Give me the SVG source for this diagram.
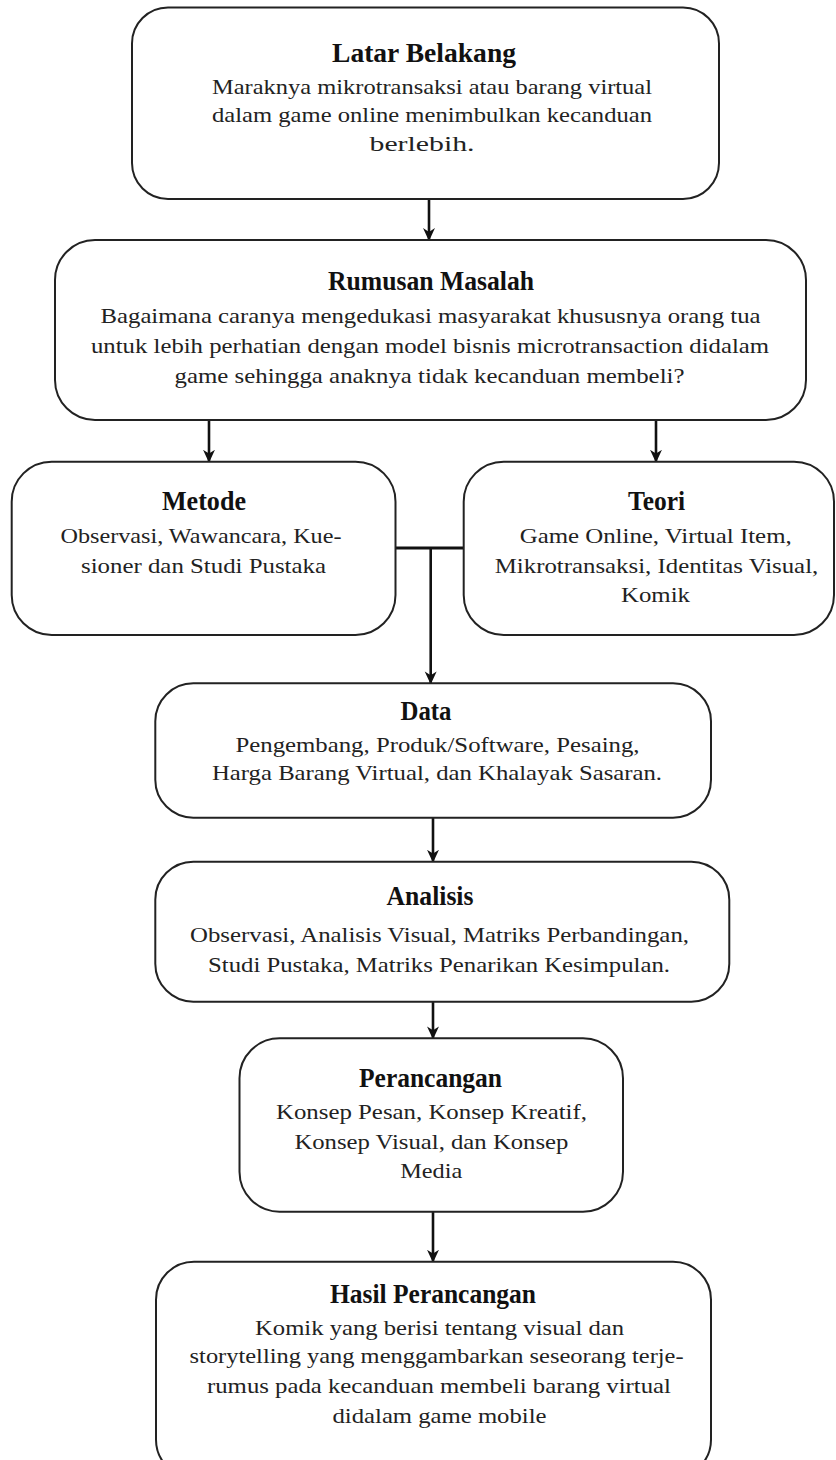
<svg xmlns="http://www.w3.org/2000/svg" width="836" height="1460" viewBox="0 0 836 1460">
<defs>
<style>
.box{fill:#fff;stroke:#222;stroke-width:2}
.t{font-family:"Liberation Serif","Times New Roman",serif;font-weight:bold;font-size:27px;fill:#111;text-anchor:middle}
.b{font-family:"Liberation Serif","Times New Roman",serif;font-size:22px;fill:#222;text-anchor:middle}
.c{stroke:#111;stroke-width:2.6;fill:none}
</style>
<marker id="ah" viewBox="0 0 12 12" refX="11" refY="6" markerWidth="13" markerHeight="13" markerUnits="userSpaceOnUse" orient="auto">
<path d="M0,0.5 L12,6 L0,11.5 L3.5,6 z" fill="#111"/>
</marker>
</defs>
<rect width="836" height="1460" fill="#fff"/>
<g id="connectors">
<line class="c" x1="429" y1="199" x2="429" y2="240" marker-end="url(#ah)"/>
<line class="c" x1="209" y1="420" x2="209" y2="461.7" marker-end="url(#ah)"/>
<line class="c" x1="656" y1="420" x2="656" y2="461.7" marker-end="url(#ah)"/>
<line class="c" x1="395.5" y1="548" x2="463.7" y2="548" style="stroke-width:3"/>
<line class="c" x1="430.7" y1="548" x2="430.7" y2="683.3" marker-end="url(#ah)"/>
<line class="c" x1="433" y1="817.7" x2="433" y2="861.7" marker-end="url(#ah)"/>
<line class="c" x1="433" y1="1001.7" x2="433" y2="1038.3" marker-end="url(#ah)"/>
<line class="c" x1="433" y1="1211.7" x2="433" y2="1261.7" marker-end="url(#ah)"/>
</g>
<g id="latar-belakang">
<rect class="box" x="132" y="7.5" width="587" height="191.5" rx="36"/>
<text class="t" x="424" y="61.5" textLength="184" lengthAdjust="spacingAndGlyphs">Latar Belakang</text>
<text class="b" x="432" y="94" textLength="440" lengthAdjust="spacingAndGlyphs">Maraknya mikrotransaksi atau barang virtual</text>
<text class="b" x="432" y="122" textLength="440" lengthAdjust="spacingAndGlyphs">dalam game online menimbulkan kecanduan</text>
<text class="b" x="422" y="150.5" textLength="105" lengthAdjust="spacingAndGlyphs">berlebih.</text>
</g>
<g id="rumusan-masalah">
<rect class="box" x="55" y="240" width="751" height="180" rx="40"/>
<text class="t" x="431" y="290" textLength="206" lengthAdjust="spacingAndGlyphs">Rumusan Masalah</text>
<text class="b" x="430.5" y="323" textLength="660" lengthAdjust="spacingAndGlyphs">Bagaimana caranya mengedukasi masyarakat khususnya orang tua</text>
<text class="b" x="430" y="353" textLength="678" lengthAdjust="spacingAndGlyphs">untuk lebih perhatian dengan model bisnis microtransaction didalam</text>
<text class="b" x="429.5" y="383" textLength="510" lengthAdjust="spacingAndGlyphs">game sehingga anaknya tidak kecanduan membeli?</text>
</g>
<g id="metode">
<rect class="box" x="11.7" y="461.7" width="383.8" height="173.3" rx="40"/>
<text class="t" x="204" y="510" textLength="84" lengthAdjust="spacingAndGlyphs">Metode</text>
<text class="b" x="201" y="543" textLength="281" lengthAdjust="spacingAndGlyphs">Observasi, Wawancara, Kue-</text>
<text class="b" x="203.5" y="573" textLength="245" lengthAdjust="spacingAndGlyphs">sioner dan Studi Pustaka</text>
</g>
<g id="teori">
<rect class="box" x="463.7" y="461.7" width="370.3" height="173.3" rx="40"/>
<text class="t" x="656.5" y="510" textLength="57" lengthAdjust="spacingAndGlyphs">Teori</text>
<text class="b" x="655.7" y="543" textLength="272" lengthAdjust="spacingAndGlyphs">Game Online, Virtual Item,</text>
<text class="b" x="656.5" y="573" textLength="323.5" lengthAdjust="spacingAndGlyphs">Mikrotransaksi, Identitas Visual,</text>
<text class="b" x="655.5" y="602" textLength="69" lengthAdjust="spacingAndGlyphs">Komik</text>
</g>
<g id="data">
<rect class="box" x="155.3" y="683.3" width="555.7" height="134.4" rx="38"/>
<text class="t" x="426" y="720" textLength="51" lengthAdjust="spacingAndGlyphs">Data</text>
<text class="b" x="437.5" y="751.7" textLength="404" lengthAdjust="spacingAndGlyphs">Pengembang, Produk/Software, Pesaing,</text>
<text class="b" x="437" y="780" textLength="450" lengthAdjust="spacingAndGlyphs">Harga Barang Virtual, dan Khalayak Sasaran.</text>
</g>
<g id="analisis">
<rect class="box" x="155.3" y="861.7" width="574" height="140" rx="38"/>
<text class="t" x="430" y="905" textLength="87" lengthAdjust="spacingAndGlyphs">Analisis</text>
<text class="b" x="439.5" y="941.7" textLength="499" lengthAdjust="spacingAndGlyphs">Observasi, Analisis Visual, Matriks Perbandingan,</text>
<text class="b" x="439" y="971.7" textLength="462" lengthAdjust="spacingAndGlyphs">Studi Pustaka, Matriks Penarikan Kesimpulan.</text>
</g>
<g id="perancangan">
<rect class="box" x="239.5" y="1038.3" width="383.5" height="173.4" rx="40"/>
<text class="t" x="430.5" y="1087.3" textLength="143" lengthAdjust="spacingAndGlyphs">Perancangan</text>
<text class="b" x="431.5" y="1119.3" textLength="311" lengthAdjust="spacingAndGlyphs">Konsep Pesan, Konsep Kreatif,</text>
<text class="b" x="431.4" y="1149" textLength="274" lengthAdjust="spacingAndGlyphs">Konsep Visual, dan Konsep</text>
<text class="b" x="431.2" y="1178.3" textLength="62" lengthAdjust="spacingAndGlyphs">Media</text>
</g>
<g id="hasil-perancangan">
<rect class="box" x="156" y="1261.7" width="555" height="216" rx="38"/>
<text class="t" x="433" y="1303.3" textLength="206" lengthAdjust="spacingAndGlyphs">Hasil Perancangan</text>
<text class="b" x="439.5" y="1335" textLength="369" lengthAdjust="spacingAndGlyphs">Komik yang berisi tentang visual dan</text>
<text class="b" x="436.6" y="1363.3" textLength="494" lengthAdjust="spacingAndGlyphs">storytelling yang menggambarkan seseorang terje-</text>
<text class="b" x="439" y="1393.3" textLength="464" lengthAdjust="spacingAndGlyphs">rumus pada kecanduan membeli barang virtual</text>
<text class="b" x="439.5" y="1423.3" textLength="214" lengthAdjust="spacingAndGlyphs">didalam game mobile</text>
</g>
</svg>
